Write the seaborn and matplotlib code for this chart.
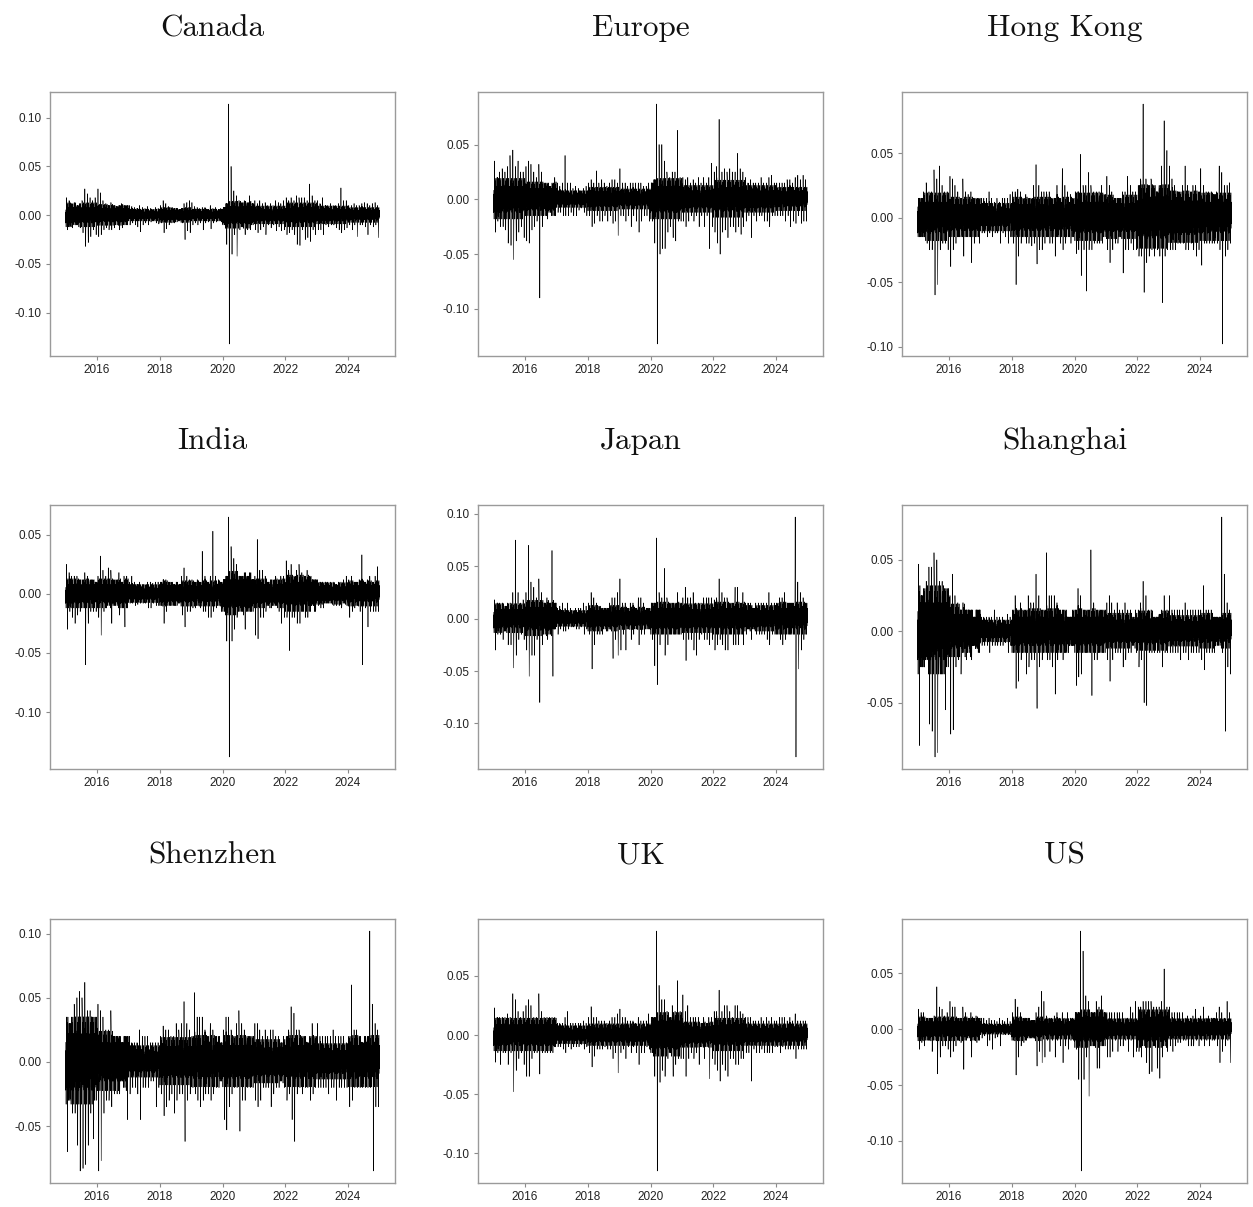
import numpy as np
import pandas as pd
import matplotlib
matplotlib.use("Agg")
import matplotlib.pyplot as plt
import matplotlib.dates as mdates
from matplotlib.ticker import FormatStrFormatter, MultipleLocator
import seaborn as sns

# Monthly high / low of daily index returns in percent, Jan 2015 .. Dec 2024
# (one row per year), plus a typical daily move per year.
CANADA_HI = [1.8,1.5,1.2,1.3,1.0,1.2,1.5,2.7,2.2,1.8,1.5,1.8,
             2.7,2.3,1.5,1.2,1.0,1.3,1.0,0.9,1.0,1.2,1.0,1.0,
             1.0,0.9,0.8,0.7,1.0,0.8,0.7,0.9,0.7,0.6,0.8,0.7,
             1.0,1.5,1.2,0.9,0.8,0.7,0.7,0.6,0.7,1.2,1.3,1.5,
             1.3,0.9,0.8,0.7,0.8,0.8,0.6,1.0,0.7,0.8,0.6,0.7,
             0.8,1.2,11.4,5.0,2.5,2.0,1.5,1.3,1.5,1.3,2.0,1.2,
             1.5,1.2,1.5,1.2,1.3,1.0,1.2,1.0,1.5,1.3,1.2,1.5,
             1.8,1.5,1.8,1.5,2.0,1.8,1.8,1.8,1.5,3.2,2.0,1.5,
             1.5,1.2,1.8,1.0,1.0,1.2,1.0,1.0,1.2,2.8,1.5,1.5,
             1.0,1.0,1.2,1.0,1.0,1.2,1.3,1.2,1.0,1.2,1.3,1.0]
CANADA_LO = [-1.5,-1.2,-1.3,-1.0,-1.0,-1.3,-1.8,-3.2,-2.8,-2.2,-1.5,-2.0,
             -2.2,-2.0,-1.5,-1.3,-1.5,-1.5,-1.3,-1.0,-1.5,-1.3,-1.0,-1.0,
             -1.0,-0.8,-1.0,-1.2,-1.7,-1.0,-0.8,-1.0,-0.7,-0.6,-0.8,-0.9,
             -0.8,-1.8,-1.4,-1.0,-0.8,-0.8,-0.7,-0.6,-0.8,-2.5,-1.6,-1.8,
             -1.0,-0.8,-1.0,-0.8,-1.5,-0.8,-0.7,-1.4,-0.8,-0.7,-0.6,-0.7,
             -1.0,-3.0,-13.2,-4.0,-2.0,-4.2,-1.5,-1.2,-2.0,-1.5,-1.5,-1.0,
             -1.5,-1.8,-1.5,-1.2,-2.0,-1.0,-1.3,-1.0,-1.6,-1.2,-1.6,-1.5,
             -2.0,-1.8,-1.5,-2.0,-3.0,-3.1,-1.5,-2.5,-2.3,-2.7,-1.5,-2.0,
             -1.5,-1.5,-2.0,-1.0,-1.2,-1.0,-1.0,-1.3,-1.5,-1.8,-1.5,-1.3,
             -1.0,-1.5,-1.0,-2.2,-1.0,-1.0,-1.2,-2.0,-1.0,-1.2,-1.0,-2.3]
CANADA_CORE = [0.8,0.7,0.4,0.5,0.4,0.9,0.6,0.8,0.6,0.5]

EUROPE_HI = [3.5,2.0,2.5,2.8,2.5,3.0,4.0,4.5,3.0,3.5,2.5,2.5,
             3.0,3.5,3.2,2.5,2.0,3.2,2.5,1.5,1.5,1.2,1.5,2.0,
             1.5,1.2,1.5,4.0,1.5,1.5,1.0,1.2,1.0,0.8,1.0,1.2,
             1.5,1.8,1.5,2.6,1.5,1.8,1.5,1.2,1.5,1.8,1.8,1.5,
             2.8,1.5,1.5,1.2,1.5,1.5,1.5,1.5,1.5,1.2,1.2,1.5,
             1.5,1.8,8.7,5.0,5.0,3.5,2.5,2.0,2.5,2.5,6.3,2.0,
             2.0,1.8,2.0,1.5,1.8,1.5,2.0,1.5,2.0,1.5,2.0,3.3,
             2.5,3.0,7.3,2.5,2.8,2.5,2.8,2.5,2.5,4.2,2.8,2.5,
             2.0,1.5,1.8,1.5,1.5,1.5,2.0,1.5,1.5,2.0,2.2,1.5,
             1.5,1.5,1.5,1.5,1.8,1.8,1.5,2.0,2.2,1.8,2.2,1.8]
EUROPE_LO = [-3.0,-2.0,-2.5,-2.5,-2.8,-4.0,-4.2,-5.5,-3.8,-3.0,-2.5,-3.5,
             -3.8,-4.0,-2.8,-2.5,-2.0,-9.0,-2.5,-1.5,-1.8,-1.2,-1.5,-1.5,
             -1.2,-1.2,-1.5,-1.5,-1.5,-1.2,-1.5,-1.5,-1.0,-0.8,-1.2,-1.5,
             -1.5,-2.5,-2.2,-1.5,-2.0,-2.0,-1.5,-2.0,-1.5,-2.2,-2.0,-3.3,
             -1.5,-1.5,-2.0,-1.5,-2.5,-1.5,-2.0,-3.0,-2.0,-1.5,-1.5,-2.0,
             -2.0,-4.0,-13.2,-5.0,-4.5,-4.5,-3.0,-2.5,-3.5,-3.8,-2.0,-2.0,
             -2.0,-2.5,-2.0,-1.5,-2.0,-1.5,-2.5,-1.5,-2.5,-1.5,-4.5,-2.5,
             -3.0,-4.0,-5.0,-3.0,-2.8,-3.5,-2.5,-2.5,-3.0,-2.5,-3.2,-2.5,
             -2.0,-1.5,-3.5,-1.5,-2.0,-1.5,-1.5,-2.0,-2.0,-2.5,-1.5,-1.5,
             -1.5,-1.5,-1.5,-2.0,-1.5,-2.5,-2.0,-2.2,-1.5,-2.2,-2.0,-2.0]
EUROPE_CORE = [1.2,1.0,0.5,0.7,0.6,1.2,0.8,1.1,0.8,0.7]

HONGKONG_HI = [1.5,1.5,2.0,2.7,2.0,2.0,3.7,3.0,4.0,2.5,2.0,2.0,
               3.2,3.0,2.5,2.0,1.5,3.0,2.0,1.8,2.0,1.5,1.5,1.5,
               1.5,1.5,1.5,2.0,1.5,1.2,1.5,1.2,1.5,1.5,1.5,1.8,
               2.0,2.0,2.2,2.0,1.5,1.8,1.5,1.5,2.5,4.1,2.5,2.0,
               2.0,2.0,2.0,1.5,1.5,2.5,1.5,3.8,2.5,2.0,1.8,1.5,
               2.0,2.0,4.9,2.5,2.5,3.5,2.5,2.0,2.0,2.0,2.5,1.8,
               3.2,2.5,2.0,1.5,1.5,1.5,2.0,2.0,3.2,2.5,2.0,2.0,
               2.5,3.0,8.8,3.0,2.5,3.0,2.5,2.0,2.5,4.0,7.5,5.2,
               4.0,3.0,2.5,2.0,2.0,2.5,4.0,2.5,2.0,2.5,2.5,2.0,
               3.8,2.5,2.0,2.0,2.0,1.8,2.0,4.0,3.5,2.5,2.5,2.7]
HONGKONG_LO = [-1.5,-1.5,-1.5,-2.0,-2.5,-2.5,-6.0,-5.2,-2.5,-2.0,-2.0,-2.5,
               -3.8,-2.5,-2.0,-1.5,-1.5,-3.0,-1.5,-1.5,-3.5,-2.0,-1.5,-2.0,
               -1.2,-1.2,-1.5,-1.2,-1.5,-1.2,-1.2,-2.0,-1.2,-1.5,-2.0,-1.5,
               -2.0,-5.2,-3.0,-2.0,-1.5,-2.0,-2.0,-2.2,-2.0,-3.6,-2.5,-2.5,
               -2.0,-1.5,-2.0,-2.0,-3.0,-1.5,-2.0,-2.5,-2.0,-1.5,-2.0,-1.5,
               -2.8,-2.5,-4.5,-2.5,-5.7,-2.5,-2.5,-2.0,-2.0,-2.0,-2.0,-1.5,
               -2.5,-3.5,-2.5,-2.0,-2.0,-1.5,-4.3,-2.5,-2.5,-2.0,-2.5,-2.5,
               -3.0,-3.0,-5.8,-3.5,-3.0,-2.5,-3.0,-2.5,-3.0,-6.6,-3.0,-2.5,
               -2.5,-2.5,-2.5,-2.0,-2.0,-2.0,-2.5,-2.5,-2.0,-2.5,-3.0,-2.5,
               -3.7,-2.0,-2.0,-2.0,-2.0,-2.0,-2.0,-2.5,-9.8,-3.0,-2.5,-2.0]
HONGKONG_CORE = [1.2,1.0,0.7,1.0,1.0,1.2,1.1,1.6,1.3,1.2]

INDIA_HI = [2.5,1.8,1.5,1.5,1.5,1.2,1.2,1.8,1.5,1.2,1.2,1.0,
            1.5,3.2,2.0,1.5,2.2,2.0,1.2,1.2,1.8,1.0,1.5,1.5,
            1.0,1.5,1.0,0.8,1.0,0.8,0.8,1.0,1.0,0.9,1.0,1.0,
            1.0,1.2,1.2,1.0,1.0,0.8,1.0,0.8,1.5,2.2,1.5,1.2,
            1.2,1.0,1.2,1.0,3.6,1.5,1.0,1.5,5.3,1.5,1.2,1.0,
            1.2,1.5,6.5,4.0,3.0,2.5,1.5,1.5,1.8,1.5,1.8,1.2,
            1.5,4.6,2.0,2.0,1.5,1.0,1.2,1.2,1.5,1.2,1.5,1.5,
            2.8,2.0,2.5,1.5,2.0,2.5,1.8,1.5,2.0,1.5,1.2,1.2,
            1.2,1.0,1.0,1.0,1.0,1.0,1.0,0.8,1.0,1.0,1.2,1.5,
            1.2,1.5,1.0,1.0,1.2,3.3,1.0,1.2,1.5,1.0,1.5,2.3]
INDIA_LO = [-3.0,-1.5,-2.0,-2.5,-1.8,-1.5,-1.2,-6.0,-2.5,-1.5,-1.5,-1.5,
            -2.0,-3.5,-1.5,-1.2,-1.0,-2.5,-1.0,-1.0,-1.8,-1.2,-2.8,-1.2,
            -0.8,-0.8,-1.0,-0.9,-0.8,-0.8,-0.8,-1.2,-1.2,-0.8,-1.0,-1.0,
            -1.0,-2.5,-1.5,-1.0,-1.0,-1.0,-1.0,-0.8,-1.8,-2.8,-1.5,-1.5,
            -1.2,-1.2,-1.0,-1.2,-1.5,-1.5,-2.0,-2.0,-1.5,-1.2,-1.0,-1.5,
            -1.5,-4.0,-13.8,-4.0,-3.0,-2.0,-1.5,-1.5,-3.0,-1.5,-1.5,-1.5,
            -3.5,-3.8,-2.0,-2.0,-1.5,-1.0,-1.2,-1.0,-1.0,-1.5,-2.5,-2.0,
            -2.0,-4.8,-2.0,-2.0,-2.5,-2.5,-1.5,-2.0,-2.0,-1.5,-1.0,-1.5,
            -1.0,-1.2,-1.2,-0.8,-0.8,-0.8,-1.0,-1.0,-1.0,-1.2,-0.8,-1.0,
            -2.0,-1.5,-1.2,-1.0,-1.5,-6.0,-1.2,-2.8,-1.5,-1.5,-1.5,-1.5]
INDIA_CORE = [0.8,0.8,0.5,0.7,0.7,1.2,0.8,1.0,0.6,0.7]

JAPAN_HI = [1.8,1.5,1.5,1.5,1.2,1.5,1.5,2.5,7.5,2.5,1.5,1.8,
            2.5,7.0,3.5,3.0,2.0,3.8,2.5,1.5,2.0,1.5,6.5,1.5,
            1.0,1.2,1.5,1.0,1.5,1.0,0.8,1.0,1.0,1.0,1.5,1.2,
            1.5,2.5,2.0,1.5,1.2,1.0,1.0,1.0,1.5,2.0,2.0,2.5,
            3.8,1.5,1.5,1.0,1.5,1.5,1.0,2.0,2.0,1.5,1.0,1.0,
            1.5,1.5,7.7,2.5,2.0,4.8,2.0,1.5,1.5,1.5,2.5,1.5,
            2.0,3.0,2.0,2.0,2.5,1.5,1.5,1.5,2.0,2.0,2.0,2.0,
            1.8,2.0,3.8,2.5,2.0,2.0,1.5,1.5,3.0,3.0,1.5,2.5,
            1.5,1.5,1.5,1.0,1.5,1.5,1.5,1.5,1.5,2.5,1.5,1.5,
            1.5,2.0,2.0,2.5,1.5,1.5,1.5,9.7,3.5,2.5,2.0,1.5]
JAPAN_LO = [-3.0,-1.5,-1.5,-2.0,-1.2,-2.5,-2.5,-4.7,-3.5,-2.0,-1.5,-2.0,
            -3.0,-5.5,-3.5,-3.5,-2.0,-8.0,-2.5,-1.5,-2.0,-1.5,-5.5,-1.0,
            -1.5,-1.0,-1.2,-1.2,-1.0,-0.8,-0.8,-1.0,-1.0,-0.8,-1.5,-1.0,
            -1.5,-4.8,-2.5,-1.5,-1.5,-1.5,-1.0,-1.2,-1.0,-3.8,-2.0,-3.5,
            -3.0,-1.5,-3.0,-1.0,-2.0,-1.5,-1.0,-2.5,-1.5,-1.5,-1.0,-1.0,
            -2.0,-4.5,-6.3,-2.5,-1.5,-3.5,-2.5,-1.5,-1.5,-1.5,-1.5,-1.5,
            -2.0,-4.0,-2.0,-2.0,-3.0,-3.5,-2.0,-1.5,-2.0,-2.0,-2.5,-2.0,
            -3.0,-2.5,-2.0,-2.5,-3.0,-3.0,-1.5,-2.5,-2.5,-2.5,-1.5,-2.5,
            -1.5,-1.0,-2.0,-1.0,-1.5,-1.5,-1.5,-1.5,-2.0,-2.5,-1.5,-1.5,
            -1.5,-2.0,-2.5,-2.0,-1.5,-1.5,-1.5,-13.2,-4.8,-3.0,-2.0,-1.5]
JAPAN_CORE = [0.9,1.1,0.5,0.8,0.7,1.0,0.9,1.0,0.8,1.0]

SHANGHAI_HI = [4.7,2.5,3.0,3.5,4.5,4.5,5.5,5.0,3.5,3.5,3.0,3.0,
               2.5,4.0,2.5,2.0,1.5,2.0,1.5,1.5,1.5,1.0,1.5,1.5,
               1.0,1.0,1.0,1.0,1.0,1.5,1.0,1.0,1.0,0.8,1.2,1.0,
               1.5,2.5,1.5,2.0,1.5,1.5,2.5,2.0,2.0,4.0,2.5,1.5,
               1.5,5.5,2.5,2.5,2.5,2.0,1.5,1.5,1.5,1.0,1.0,1.5,
               1.5,3.0,2.5,1.5,1.5,1.5,5.7,2.0,1.5,1.5,1.5,1.5,
               2.0,2.5,2.0,1.5,2.0,1.5,1.5,2.0,1.5,1.5,1.0,1.5,
               1.5,2.0,3.5,2.5,1.5,1.5,1.0,1.0,1.2,1.5,2.5,1.5,
               2.5,1.5,1.5,1.5,1.5,1.5,2.0,1.5,1.5,1.5,1.5,1.5,
               1.5,3.2,1.5,1.5,1.5,1.0,1.0,1.0,8.0,4.0,2.0,1.5]
SHANGHAI_LO = [-8.0,-2.5,-2.5,-2.0,-6.5,-7.0,-8.8,-8.5,-3.0,-3.0,-5.5,-2.5,
               -7.2,-6.9,-2.5,-2.0,-3.0,-1.5,-2.0,-1.5,-2.0,-1.0,-1.2,-1.5,
               -1.0,-1.0,-1.0,-1.5,-1.0,-1.0,-1.0,-1.0,-1.0,-0.8,-1.5,-1.0,
               -1.5,-4.0,-3.5,-2.0,-1.5,-3.0,-2.5,-2.0,-2.0,-5.4,-2.5,-2.0,
               -1.5,-2.0,-2.0,-2.5,-4.4,-2.0,-1.5,-2.0,-1.5,-1.5,-1.0,-1.0,
               -3.8,-3.2,-3.0,-1.5,-1.5,-1.5,-4.5,-2.0,-2.0,-1.5,-1.5,-1.5,
               -2.0,-3.5,-2.0,-1.5,-1.5,-1.5,-2.5,-2.0,-1.5,-1.5,-1.0,-1.5,
               -2.5,-2.0,-5.0,-5.2,-1.5,-1.5,-1.5,-1.5,-1.5,-2.5,-1.5,-1.5,
               -1.5,-1.5,-1.5,-1.5,-2.0,-1.5,-1.5,-2.0,-1.5,-1.5,-1.5,-1.5,
               -2.0,-2.7,-1.5,-1.5,-1.5,-1.5,-1.0,-1.0,-1.5,-7.0,-2.5,-3.0]
SHANGHAI_CORE = [2.0,1.2,0.5,1.0,1.0,1.0,0.8,0.9,0.7,0.8]

SHENZHEN_HI = [3.5,3.0,3.5,4.5,5.0,5.5,5.0,6.2,4.0,4.0,3.5,3.5,
               4.5,4.0,3.5,2.5,2.5,4.0,2.0,2.0,2.0,1.5,2.0,2.0,
               2.0,1.5,1.5,1.5,2.5,2.0,2.0,2.0,1.5,1.5,1.5,1.5,
               2.0,2.8,2.5,2.5,2.0,2.0,3.0,2.5,3.0,4.7,3.0,2.5,
               2.0,5.4,3.5,3.5,3.5,2.5,2.0,3.0,2.5,2.0,2.0,1.5,
               2.5,3.5,3.5,2.5,2.0,3.0,4.0,3.0,2.5,2.0,2.0,2.0,
               3.0,3.0,2.5,2.0,2.5,2.0,2.5,2.5,2.0,2.0,1.5,2.0,
               2.0,2.5,4.3,3.8,2.5,2.5,2.0,2.0,1.5,2.0,3.0,2.0,
               3.0,2.0,2.0,2.0,2.0,2.0,2.5,2.0,2.0,2.0,2.0,1.5,
               2.0,6.0,2.5,2.5,2.0,1.5,2.0,2.0,10.2,4.5,3.0,2.5]
SHENZHEN_LO = [-7.0,-3.0,-4.0,-4.0,-6.5,-8.5,-8.3,-8.0,-6.5,-4.0,-6.0,-3.0,
               -8.5,-7.7,-4.0,-3.0,-3.0,-3.5,-2.5,-2.5,-2.5,-1.5,-2.0,-4.5,
               -2.5,-2.0,-2.0,-2.5,-4.5,-2.0,-2.0,-2.0,-1.5,-1.5,-3.5,-2.0,
               -2.5,-4.2,-3.5,-3.0,-2.5,-4.0,-3.0,-2.5,-2.5,-6.2,-3.0,-2.5,
               -2.0,-2.5,-3.0,-3.5,-3.0,-2.5,-2.5,-3.0,-2.5,-2.0,-2.0,-1.5,
               -4.5,-5.3,-3.5,-2.5,-2.0,-2.0,-5.4,-3.0,-3.0,-2.0,-2.0,-2.0,
               -3.0,-3.5,-3.0,-2.0,-2.0,-2.0,-3.5,-2.5,-2.0,-2.0,-1.5,-2.0,
               -3.0,-2.5,-4.5,-6.2,-2.5,-2.0,-2.5,-2.0,-2.0,-3.0,-2.5,-2.0,
               -2.0,-2.0,-2.0,-2.0,-2.5,-2.0,-2.0,-3.0,-2.0,-2.0,-2.0,-2.0,
               -3.5,-3.0,-2.0,-2.0,-2.0,-2.0,-2.0,-2.0,-2.0,-8.5,-3.5,-3.5]
SHENZHEN_CORE = [2.2,1.5,0.8,1.2,1.3,1.3,1.1,1.3,0.9,1.3]

UK_HI = [2.3,1.5,1.5,1.5,1.5,1.8,1.5,3.5,3.0,2.0,1.5,2.0,
         2.5,3.0,2.5,1.5,1.5,3.5,2.0,1.5,1.5,1.5,1.5,1.5,
         1.0,1.0,1.0,1.5,2.0,1.0,1.0,1.0,1.0,1.0,1.2,1.0,
         1.5,2.4,1.5,1.5,1.2,1.2,1.2,1.0,1.2,1.5,1.5,1.8,
         2.2,1.5,1.5,1.2,1.2,1.2,1.0,1.5,1.2,1.2,1.2,1.8,
         1.5,1.5,8.8,4.2,3.0,3.0,2.0,1.5,2.5,2.0,4.6,2.0,
         3.4,2.0,2.5,1.5,1.5,1.5,1.5,1.0,1.5,1.0,1.5,1.5,
         2.0,2.0,3.8,2.0,2.5,2.5,2.0,1.5,2.5,2.5,2.0,1.8,
         1.5,1.5,1.5,1.2,1.2,1.2,1.5,1.2,1.5,1.2,1.5,1.2,
         1.2,1.5,1.5,1.5,1.2,1.5,1.2,1.8,1.2,1.2,1.2,1.2]
UK_LO = [-2.3,-1.5,-2.5,-1.5,-1.5,-2.5,-1.5,-4.8,-3.0,-2.0,-1.5,-2.5,
         -3.5,-3.5,-2.0,-1.5,-1.5,-3.3,-1.5,-1.5,-1.5,-1.5,-1.5,-1.0,
         -1.0,-1.0,-1.2,-1.5,-1.0,-1.2,-1.0,-1.0,-1.0,-0.8,-1.2,-1.0,
         -1.5,-2.7,-1.8,-1.2,-1.2,-1.2,-1.0,-1.2,-1.2,-2.0,-1.5,-3.2,
         -1.5,-1.2,-2.0,-1.0,-1.5,-1.0,-1.5,-2.5,-1.5,-1.5,-1.0,-1.2,
         -1.5,-3.5,-11.5,-4.0,-3.0,-3.5,-2.0,-1.5,-3.5,-2.5,-2.0,-2.0,
         -2.0,-3.5,-2.0,-1.5,-2.0,-1.5,-2.5,-1.0,-2.0,-1.0,-3.7,-2.0,
         -2.5,-3.0,-3.9,-2.5,-3.0,-3.5,-2.0,-2.0,-2.5,-2.5,-2.0,-2.0,
         -1.5,-1.5,-3.9,-1.2,-1.5,-1.5,-1.2,-1.5,-1.5,-1.5,-1.5,-1.0,
         -1.0,-1.5,-1.0,-1.2,-1.2,-1.2,-1.2,-2.0,-1.2,-1.2,-1.2,-1.2]
UK_CORE = [0.9,0.9,0.5,0.6,0.6,1.2,0.7,0.9,0.6,0.6]

US_HI = [1.8,1.5,1.5,1.0,1.0,1.0,1.2,3.8,2.0,1.8,1.2,1.5,
         2.5,2.0,2.0,1.0,1.0,2.0,1.5,1.0,1.5,1.0,1.2,1.0,
         1.0,1.0,0.8,1.0,0.8,0.8,0.7,1.0,0.8,0.7,1.0,0.7,
         1.5,2.7,2.0,1.5,1.0,1.0,1.0,0.8,0.8,1.5,2.0,3.4,
         2.5,1.2,1.0,1.0,1.2,1.5,1.0,1.5,1.0,1.5,1.0,1.0,
         1.5,1.5,8.8,7.0,3.0,2.5,1.5,1.5,2.5,2.0,3.0,1.5,
         1.5,1.5,1.5,1.5,1.5,1.5,1.5,1.0,1.0,2.0,1.5,2.5,
         2.0,2.0,2.5,2.5,2.5,2.5,2.0,2.0,2.0,2.5,5.4,2.0,
         2.0,1.5,1.5,1.5,1.5,1.5,1.0,1.2,1.0,1.2,1.8,1.0,
         1.2,2.0,1.0,1.2,1.0,1.0,1.5,2.0,1.5,1.0,2.5,1.5]
US_LO = [-1.8,-1.2,-1.5,-1.0,-1.0,-2.0,-1.0,-4.0,-2.5,-1.5,-1.5,-1.8,
         -2.5,-2.0,-1.5,-1.0,-1.2,-3.6,-1.0,-0.8,-2.5,-1.0,-1.2,-1.0,
         -0.8,-0.6,-1.5,-1.0,-1.8,-0.8,-0.7,-1.5,-0.5,-0.5,-0.5,-0.5,
         -1.0,-4.1,-2.5,-1.5,-1.2,-1.0,-0.8,-0.8,-0.8,-3.3,-2.0,-3.0,
         -2.5,-1.0,-2.0,-1.0,-2.5,-1.0,-1.5,-3.0,-1.5,-1.8,-1.0,-1.0,
         -1.8,-4.5,-12.7,-4.5,-2.5,-6.0,-1.5,-1.5,-3.5,-3.5,-1.5,-1.5,
         -2.5,-2.5,-2.0,-1.0,-2.0,-1.5,-1.5,-1.0,-2.0,-1.0,-2.5,-2.0,
         -2.0,-2.5,-1.5,-3.0,-4.0,-3.8,-1.5,-3.5,-4.4,-2.5,-1.5,-2.0,
         -1.5,-2.0,-1.5,-1.2,-1.2,-1.0,-1.0,-1.5,-1.5,-1.5,-1.0,-1.5,
         -1.0,-1.5,-1.0,-1.5,-1.0,-1.0,-1.5,-3.0,-2.0,-1.5,-1.0,-3.0]
US_CORE = [0.7,0.7,0.3,0.7,0.6,1.1,0.6,1.1,0.6,0.6]

MARKETS = ["Canada", "Europe", "Hong Kong", "India", "Japan",
           "Shanghai", "Shenzhen", "UK", "US"]
SERIES = {
    "Canada": (CANADA_HI, CANADA_LO, CANADA_CORE),
    "Europe": (EUROPE_HI, EUROPE_LO, EUROPE_CORE),
    "Hong Kong": (HONGKONG_HI, HONGKONG_LO, HONGKONG_CORE),
    "India": (INDIA_HI, INDIA_LO, INDIA_CORE),
    "Japan": (JAPAN_HI, JAPAN_LO, JAPAN_CORE),
    "Shanghai": (SHANGHAI_HI, SHANGHAI_LO, SHANGHAI_CORE),
    "Shenzhen": (SHENZHEN_HI, SHENZHEN_LO, SHENZHEN_CORE),
    "UK": (UK_HI, UK_LO, UK_CORE),
    "US": (US_HI, US_LO, US_CORE),
}

# Relative size of the ordinary trading days within a month, in units of the
# year's typical move; signs alternate day by day.
DAY_SCALE = [0.4, 1.0, 0.7, 1.5, 0.3, 0.9, 1.2, 0.5, 1.8, 0.6, 1.1, 0.2,
             1.4, 0.8, 0.5, 1.3, 0.9, 0.3, 1.6, 0.7, 1.0, 0.4, 1.2]

DAYS = pd.bdate_range("2015-01-01", "2024-12-31")
MONTH_IDX = (DAYS.year - 2015) * 12 + DAYS.month - 1


def daily_returns(hi, lo, core):
    """Trading-day path: ordinary moves of the year, plus the month's extremes."""
    vals = np.empty(len(DAYS))
    for m in range(120):
        idx = np.flatnonzero(MONTH_IDX == m)
        n = len(idx)
        c = core[m // 12]
        mag = np.array(DAY_SCALE[:n]) * c
        seg = np.where(np.arange(n) % 2 == 0, 1.0, -1.0) * mag
        seg = np.clip(seg, lo[m], hi[m])
        seg[n // 3] = hi[m]
        seg[(2 * n) // 3] = lo[m]
        vals[idx] = seg / 100.0
    return vals


sns.set_theme(style="ticks")
plt.rcParams["font.family"] = ["Liberation Sans", "DejaVu Sans"]

W, H = 1253, 1207
fig = plt.figure(figsize=(W / 100, H / 100), dpi=100)
fig.patch.set_facecolor("white")

col_left = [50, 478, 902]
row_top = [92, 505, 919]
ax_w, ax_h = 345, 264

for i, name in enumerate(MARKETS):
    r, c = divmod(i, 3)
    rect = [col_left[c] / W, 1 - (row_top[r] + ax_h) / H, ax_w / W, ax_h / H]
    ax = fig.add_axes(rect)
    hi, lo, core = SERIES[name]
    df = pd.DataFrame({"date": DAYS, "ret": daily_returns(hi, lo, core)})
    sns.lineplot(data=df, x="date", y="ret", ax=ax, color="black",
                 linewidth=0.42, estimator=None, sort=False)
    ax.set_xlabel("")
    ax.set_ylabel("")
    ax.xaxis.set_major_locator(mdates.YearLocator(2))
    ax.xaxis.set_major_formatter(mdates.DateFormatter("%Y"))
    ax.yaxis.set_major_locator(MultipleLocator(0.05))
    ax.yaxis.set_major_formatter(FormatStrFormatter("%.2f"))
    ax.tick_params(labelsize=8.5, length=3, width=0.8, color="#8a8a8a",
                   labelcolor="#222222", pad=3)
    for sp in ax.spines.values():
        sp.set_color("#9a9a9a")
        sp.set_linewidth(1.0)
    ax.set_title(name, fontfamily="cmr10", fontsize=22.5, pad=40,
                 x=0.5 - 10 / ax_w, color="#111111")

fig.savefig("out.png", dpi=100, facecolor="white")
